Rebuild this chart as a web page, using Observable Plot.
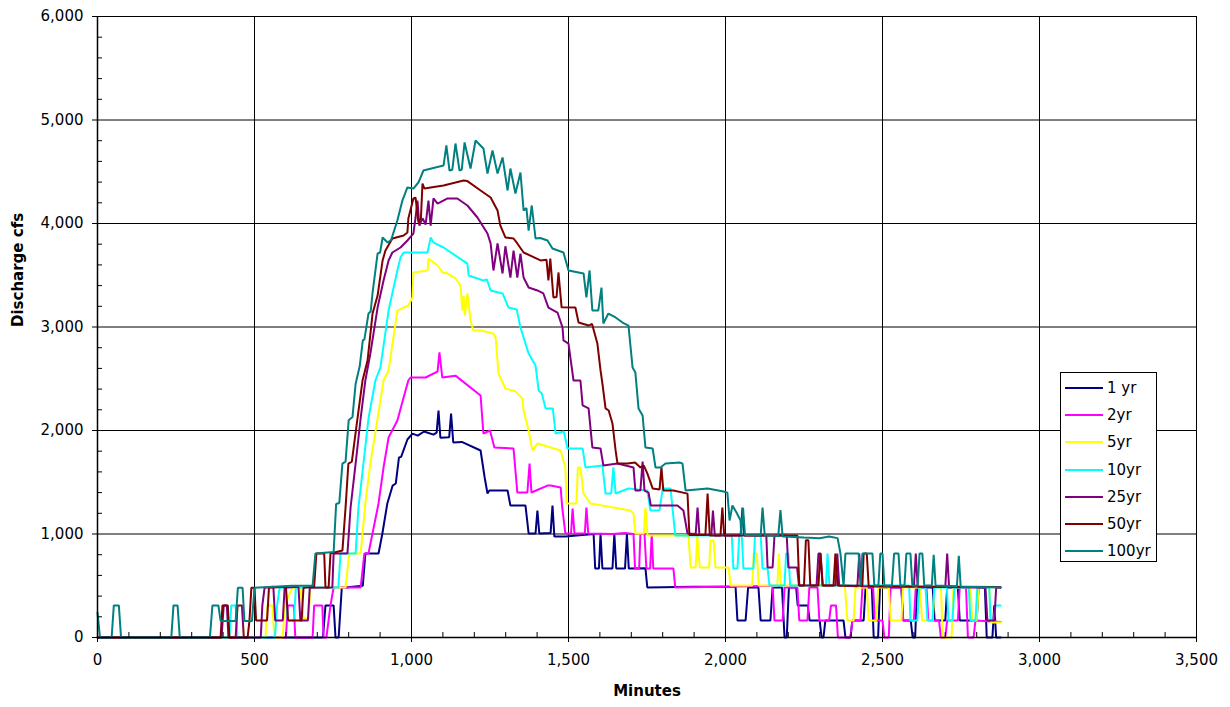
<!DOCTYPE html>
<html>
<head>
<meta charset="utf-8">
<script src="https://cdn.jsdelivr.net/npm/d3@7"></script>
<script src="https://cdn.jsdelivr.net/npm/@observablehq/plot@0.6"></script>
<style>
  html, body { margin: 0; padding: 0; background: #fff; }
  #wrap { position: relative; width: 1230px; height: 707px; font-family: "DejaVu Sans", sans-serif; }
  #legend { position: absolute; left: 1060px; top: 372px; width: 97px; height: 190px; background: #fff; border: 1px solid #000; box-sizing: border-box; }
  .row { position: absolute; left: 4px; height: 20px; display: flex; align-items: center; font-size: 15px; color: #000; white-space: nowrap; }
  .sw { width: 38px; height: 0; border-top: 2px solid; margin-right: 4px; }
</style>
</head>
<body>
<div id="wrap"><div id="legend"></div></div>
<script>
// ---- Data (minutes, discharge cfs) ----
const seriesNames = ["1 yr", "2yr", "5yr", "10yr", "25yr", "50yr", "100yr"];
const seriesColors = ["#000080", "#FF00FF", "#FFFF00", "#00FFFF", "#800080", "#800000", "#008080"];

const q1yr = [[0,0],[718,0],[726,310],[752,310],[758,0],[768,0],[778,483],[790,483],[845,500],[853,811],[895,811],[907,1000],[923,1295],[940,1468],[950,1488],[960,1739],[967,1745],[987,1913],[1003,1970],[1020,1950],[1040,1990],[1070,1960],[1080,1980],[1086,2193],[1092,1930],[1120,1935],[1126,2164],[1133,1884],[1160,1890],[1220,1807],[1233,1546],[1242,1391],[1248,1420],[1306,1420],[1315,1275],[1363,1275],[1373,1005],[1395,1005],[1401,1227],[1407,1005],[1443,1010],[1449,1275],[1455,975],[1490,975],[1580,1000],[1585,667],[1597,667],[1602,1000],[1608,667],[1640,667],[1646,1000],[1652,667],[1680,667],[1686,1000],[1692,667],[1745,670],[1751,483],[1900,490],[2032,490],[2038,164],[2064,164],[2072,483],[2105,483],[2112,164],[2143,164],[2150,483],[2180,483],[2188,0],[2195,0],[2202,483],[2225,483],[2230,310],[2262,310],[2268,164],[2300,164],[2306,0],[2312,0],[2318,164],[2376,164],[2382,0],[2398,0],[2404,164],[2440,164],[2446,483],[2466,483],[2472,0],[2486,0],[2492,483],[2560,483],[2566,164],[2590,164],[2596,0],[2604,0],[2610,483],[2660,483],[2666,164],[2700,164],[2706,483],[2740,483],[2746,164],[2800,164],[2806,483],[2826,483],[2832,0],[2850,0],[2856,310],[2862,0],[2876,0]];

const q2yr = [[0,0],[600,0],[606,310],[625,310],[630,0],[685,0],[690,310],[716,310],[720,0],[729,0],[742,310],[752,483],[838,483],[850,812],[863,812],[895,1295],[911,1643],[927,1932],[955,2097],[981,2386],[990,2483],[997,2512],[1045,2512],[1076,2560],[1083,2570],[1089,2754],[1098,2512],[1140,2530],[1220,2338],[1229,1971],[1250,2000],[1264,1836],[1325,1826],[1337,1401],[1369,1401],[1376,1681],[1382,1401],[1433,1468],[1443,1468],[1475,1450],[1480,1256],[1490,1005],[1508,1005],[1513,1246],[1519,1005],[1552,1005],[1557,1256],[1563,1005],[1640,1000],[1680,1010],[1707,1000],[1712,667],[1725,667],[1729,1000],[1742,1000],[1748,667],[1760,667],[1765,1000],[1770,667],[1834,667],[1840,483],[2150,500],[2156,164],[2182,164],[2188,483],[2229,483],[2235,164],[2261,164],[2267,483],[2293,483],[2299,164],[2330,164],[2336,310],[2352,310],[2358,0],[2398,0],[2404,164],[2430,164],[2436,483],[2470,483],[2476,164],[2500,164],[2506,0],[2520,0],[2526,483],[2560,483],[2566,164],[2600,164],[2606,483],[2640,483],[2646,164],[2680,164],[2686,0],[2700,0],[2706,164],[2740,164],[2746,483],[2766,483],[2772,0],[2790,0],[2796,164],[2876,150]];

const q5yr = [[0,0],[440,0],[446,310],[460,310],[466,0],[535,0],[541,310],[557,310],[563,0],[590,0],[596,310],[620,480],[646,483],[656,184],[672,184],[678,483],[790,483],[802,812],[838,812],[853,1295],[869,1681],[892,2116],[911,2483],[927,2580],[955,3159],[990,3208],[1003,3285],[1006,3527],[1051,3546],[1054,3662],[1083,3594],[1102,3517],[1108,3527],[1140,3469],[1156,3401],[1162,3159],[1166,3300],[1170,3110],[1178,3324],[1188,3063],[1197,2966],[1220,2966],[1261,2937],[1268,2899],[1277,2551],[1299,2406],[1330,2380],[1353,2309],[1357,2193],[1373,2000],[1385,1807],[1401,1874],[1475,1807],[1490,1643],[1494,1295],[1525,1295],[1530,1643],[1538,1643],[1548,1391],[1570,1295],[1697,1227],[1707,1198],[1713,1005],[1740,1005],[1745,1256],[1752,985],[1882,985],[1889,676],[1905,676],[1910,985],[1918,676],[1948,676],[1952,937],[1962,937],[1968,676],[2010,676],[2016,502],[2085,502],[2090,812],[2100,812],[2106,502],[2165,502],[2170,812],[2176,502],[2380,502],[2388,164],[2408,164],[2414,483],[2450,483],[2456,164],[2480,164],[2486,483],[2520,483],[2526,164],[2560,164],[2566,483],[2620,483],[2626,164],[2660,164],[2666,483],[2686,483],[2692,0],[2720,0],[2726,483],[2780,483],[2786,164],[2800,164],[2806,483],[2840,483],[2846,145],[2876,145]];

const q10yr = [[0,0],[420,0],[426,310],[440,310],[446,0],[565,0],[572,310],[580,480],[600,480],[606,164],[625,164],[632,483],[767,483],[774,812],[822,812],[831,1256],[847,1681],[863,2116],[885,2483],[901,2609],[927,3159],[955,3546],[965,3671],[975,3720],[1051,3720],[1061,3865],[1070,3816],[1102,3768],[1178,3613],[1182,3498],[1229,3449],[1240,3460],[1252,3353],[1290,3324],[1309,3188],[1335,3170],[1347,2995],[1373,2744],[1395,2628],[1405,2386],[1415,2357],[1427,2213],[1450,2213],[1459,1971],[1485,1990],[1497,1826],[1545,1826],[1554,1643],[1608,1662],[1618,1391],[1636,1391],[1643,1643],[1650,1391],[1691,1440],[1720,1430],[1751,1420],[1761,1227],[1790,1230],[1800,1440],[1825,1440],[1840,985],[2020,985],[2025,667],[2038,667],[2044,985],[2052,985],[2057,667],[2089,667],[2094,985],[2112,985],[2118,667],[2134,667],[2140,502],[2188,502],[2193,812],[2200,812],[2206,502],[2320,502],[2325,812],[2331,502],[2585,502],[2589,164],[2611,164],[2617,483],[2637,483],[2643,164],[2659,164],[2665,483],[2705,483],[2710,164],[2723,164],[2729,483],[2775,483],[2780,164],[2796,164],[2802,483],[2840,483],[2844,164],[2854,164],[2860,310],[2876,310]];

const q25yr = [[0,0],[395,0],[402,310],[412,310],[417,0],[440,0],[446,310],[460,310],[466,0],[520,0],[525,310],[532,480],[560,490],[566,164],[590,164],[596,480],[640,490],[646,164],[670,164],[676,480],[748,483],[752,812],[796,812],[806,1256],[822,1681],[838,2116],[853,2483],[869,2744],[892,3188],[911,3449],[927,3643],[939,3720],[965,3768],[987,3836],[1006,3903],[1013,4058],[1019,4222],[1025,3980],[1035,4050],[1045,3990],[1054,4222],[1061,3980],[1070,4242],[1083,4193],[1115,4242],[1146,4242],[1178,4174],[1210,4058],[1242,3903],[1252,3807],[1261,3546],[1274,3807],[1290,3517],[1299,3780],[1315,3478],[1325,3739],[1337,3478],[1347,3710],[1357,3478],[1373,3381],[1401,3353],[1420,3324],[1436,3188],[1465,3140],[1481,2995],[1484,2870],[1500,2840],[1506,2705],[1516,2483],[1538,2483],[1545,2242],[1564,2213],[1576,1836],[1602,1826],[1611,1662],[1656,1681],[1707,1643],[1713,1420],[1729,1420],[1736,1700],[1742,1420],[1755,1400],[1762,1275],[1847,1275],[1866,1227],[1879,1005],[1905,1000],[1911,1256],[1917,990],[1955,990],[1960,1227],[1966,985],[2130,985],[2134,676],[2150,676],[2156,985],[2195,985],[2200,676],[2228,676],[2234,502],[2290,502],[2296,812],[2303,812],[2309,502],[2350,502],[2356,812],[2362,502],[2420,495],[2426,812],[2432,495],[2600,490],[2606,812],[2612,490],[2700,488],[2706,812],[2712,488],[2828,480],[2834,164],[2856,164],[2862,480],[2876,480]];

const q50yr = [[0,0],[392,0],[398,310],[415,310],[420,0],[478,0],[484,164],[490,480],[500,480],[505,164],[540,164],[546,480],[600,490],[607,164],[650,164],[656,480],[690,490],[697,812],[722,812],[726,483],[736,483],[742,812],[780,840],[790,1256],[799,1681],[810,1700],[828,2116],[844,2483],[860,2676],[876,3130],[892,3304],[908,3643],[917,3739],[939,3855],[975,3884],[987,3913],[990,4048],[1006,4242],[1013,4250],[1022,4010],[1030,4050],[1035,4386],[1041,4338],[1102,4367],[1166,4415],[1178,4410],[1220,4319],[1252,4251],[1274,4126],[1283,3980],[1299,3865],[1325,3855],[1337,3807],[1357,3720],[1411,3643],[1430,3650],[1436,3449],[1442,3660],[1452,3285],[1462,3290],[1468,3527],[1478,3190],[1522,3188],[1532,3043],[1564,3014],[1575,3030],[1592,2840],[1602,2580],[1608,2454],[1618,2213],[1628,2193],[1640,2068],[1650,1807],[1656,1681],[1688,1681],[1712,1690],[1729,1643],[1740,1660],[1751,1585],[1768,1440],[1790,1430],[1796,1643],[1802,1420],[1834,1420],[1879,1390],[1885,990],[1936,990],[1943,1391],[1950,985],[1984,985],[1990,1256],[1996,985],[2048,985],[2054,1256],[2060,985],[2229,985],[2235,502],[2250,502],[2256,940],[2264,940],[2270,502],[2296,502],[2302,812],[2310,502],[2344,502],[2350,812],[2357,502],[2436,500],[2440,812],[2450,812],[2456,495],[2876,488]];

const q100yr = [[0,240],[8,0],[45,0],[52,310],[68,310],[75,0],[235,0],[242,310],[255,310],[262,0],[358,0],[366,310],[385,310],[392,160],[440,160],[447,480],[462,480],[468,160],[492,160],[500,480],[560,490],[620,500],[685,500],[694,812],[752,825],[760,1290],[770,1300],[780,1680],[790,1700],[800,2100],[812,2130],[822,2450],[835,2620],[845,2870],[850,2880],[863,3130],[870,3150],[876,3330],[892,3710],[900,3720],[908,3865],[924,3816],[935,3840],[955,4029],[971,4222],[987,4348],[1006,4338],[1022,4396],[1038,4512],[1076,4541],[1102,4560],[1111,4754],[1121,4512],[1130,4520],[1140,4773],[1153,4512],[1160,4520],[1169,4783],[1188,4531],[1204,4802],[1229,4725],[1242,4483],[1258,4705],[1274,4483],[1290,4638],[1306,4319],[1315,4531],[1331,4290],[1347,4493],[1357,4126],[1366,4150],[1373,3932],[1383,4174],[1395,3855],[1410,3860],[1433,3836],[1449,3758],[1484,3720],[1500,3546],[1548,3517],[1557,3285],[1567,3546],[1576,3159],[1595,3160],[1605,3381],[1611,3034],[1627,3130],[1650,3092],[1672,3043],[1691,3014],[1704,2609],[1713,2560],[1723,2213],[1736,2145],[1745,1836],[1768,1826],[1777,1643],[1793,1643],[1809,1681],[1855,1690],[1863,1681],[1873,1420],[1943,1440],[1994,1410],[2006,1400],[2013,1130],[2022,1275],[2035,1208],[2048,1130],[2050,990],[2056,1250],[2062,990],[2112,985],[2118,1256],[2125,985],[2168,980],[2175,1230],[2182,975],[2250,966],[2300,960],[2330,975],[2357,960],[2366,812],[2376,502],[2382,812],[2424,812],[2430,502],[2436,812],[2468,812],[2474,502],[2487,502],[2493,812],[2500,812],[2506,502],[2530,502],[2537,812],[2551,812],[2557,502],[2570,502],[2576,812],[2589,812],[2595,502],[2612,502],[2618,812],[2627,812],[2633,502],[2657,502],[2663,800],[2669,502],[2737,495],[2743,790],[2749,490],[2876,483]];

const seriesData = [q1yr, q2yr, q5yr, q10yr, q25yr, q50yr, q100yr];

const xMajor = [0, 500, 1000, 1500, 2000, 2500, 3000, 3500];
const yMajor = [0, 1000, 2000, 3000, 4000, 5000, 6000];
const xMinor = d3.range(0, 3501, 100).filter(v => v % 500 !== 0);
const yMinor = d3.range(0, 6001, 200).filter(v => v % 1000 !== 0);

const fmt = d3.format(",");

const lineMarks = seriesData.map((s, i) =>
  Plot.line(s, {x: d => d[0], y: d => d[1], stroke: seriesColors[i], strokeWidth: 2, strokeLinejoin: "miter"})
);

const chart = Plot.plot({
  width: 1230,
  height: 707,
  marginLeft: 97,
  marginRight: 34,
  marginTop: 16,
  marginBottom: 70,
  style: {fontFamily: "'DejaVu Sans', sans-serif", fontSize: "15px", color: "#000", background: "#fff", overflow: "visible"},
  x: {domain: [0, 3500]},
  y: {domain: [0, 6000]},
  marks: [
    Plot.gridX(xMajor, {stroke: "#000", strokeOpacity: 1, strokeWidth: 1}),
    Plot.gridY(yMajor, {stroke: "#000", strokeOpacity: 1, strokeWidth: 1}),
    ...lineMarks,
    Plot.ruleX(xMinor, {y1: 0, y2: 0, insetTop: -5, stroke: "#000"}),
    Plot.ruleY(yMinor, {x1: 0, x2: 0, insetRight: -5, stroke: "#000"}),
    Plot.axisX(xMajor, {tickFormat: fmt, tickSize: 5, tickPadding: 12, label: null, fontSize: 15}),
    Plot.axisY(yMajor, {tickFormat: fmt, tickSize: 5, tickPadding: 9, label: null, fontSize: 15}),
    Plot.ruleY([0], {stroke: "#000", strokeWidth: 1.5}),
    Plot.ruleX([0], {stroke: "#000", strokeWidth: 1.5}),
    Plot.text(["Minutes"], {frameAnchor: "bottom", dy: 58, fontWeight: "bold", fontSize: 15}),
    Plot.text(["Discharge cfs"], {frameAnchor: "left", dx: -79, rotate: -90, fontWeight: "bold", fontSize: 15})
  ]
});

document.getElementById("wrap").prepend(chart);

const legend = document.getElementById("legend");
seriesNames.forEach((name, i) => {
  const row = document.createElement("div");
  row.className = "row";
  row.style.top = (5 + i * 27.2) + "px";
  const sw = document.createElement("div");
  sw.className = "sw";
  sw.style.borderTopColor = seriesColors[i];
  const t = document.createElement("span");
  t.textContent = name;
  row.appendChild(sw);
  row.appendChild(t);
  legend.appendChild(row);
});
</script>
</body>
</html>
